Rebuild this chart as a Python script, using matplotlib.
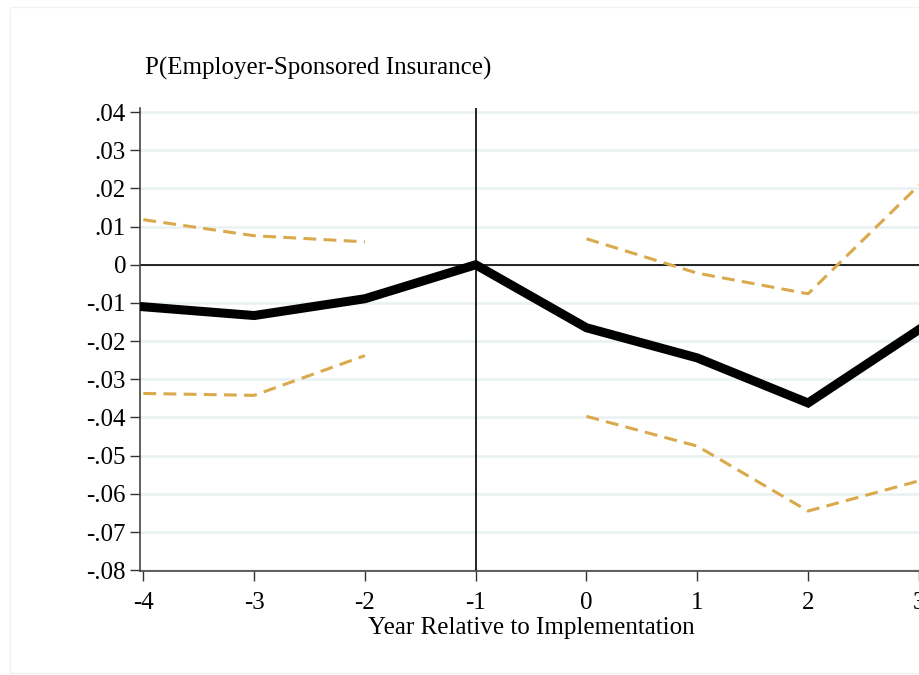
import matplotlib
matplotlib.use("Agg")
import matplotlib.pyplot as plt
from matplotlib.patches import Rectangle

plt.rcParams["font.family"] = ["Liberation Serif", "DejaVu Serif"]

# event-study estimates, year -1 is the omitted reference year
years = [-4, -3, -2, -1, 0, 1, 2, 3]
coef = [-0.0110, -0.0133, -0.0089, 0.0, -0.0165, -0.0244, -0.0362, -0.0170]

pre_years = [-4, -3, -2]
pre_upper = [0.0118, 0.0076, 0.0060]
pre_lower = [-0.0337, -0.0342, -0.0238]

post_years = [0, 1, 2, 3]
post_upper = [0.0068, -0.0022, -0.0076, 0.0208]
post_lower = [-0.0397, -0.0475, -0.0645, -0.0566]

yticks = [0.04, 0.03, 0.02, 0.01, 0, -0.01, -0.02, -0.03, -0.04, -0.05, -0.06, -0.07, -0.08]
ytick_labels = [".04", ".03", ".02", ".01", "0", "-.01", "-.02", "-.03", "-.04", "-.05", "-.06", "-.07", "-.08"]

ci_color = "#d9a94c"
grid_color = "#e9f1f3"

fig = plt.figure(figsize=(9.2, 6.75), dpi=100)
# light frame around the graph region
fig.patches.append(Rectangle((10 / 920, 2 / 675), 1.2, 666 / 675, transform=fig.transFigure,
                             fill=False, edgecolor="#f2f2f2", linewidth=1.0))

ax = fig.add_axes([140 / 920, 104 / 675, 801 / 920, 463 / 675])
ax.set_xlim(-4.03, 3.2)
ax.set_ylim(-0.0802, 0.04105)

for y in yticks:
    ax.axhline(y, color=grid_color, linewidth=1.8, zorder=0)
ax.axhline(0, color="black", linewidth=1.2, zorder=1)
ax.axvline(-1, color="black", linewidth=1.2, zorder=1)

dash = (0, (4.2, 2.4))
ax.plot(pre_years, pre_upper, color=ci_color, linewidth=2.2, linestyle=dash, zorder=2)
ax.plot(pre_years, pre_lower, color=ci_color, linewidth=2.2, linestyle=dash, zorder=2)
ax.plot(post_years, post_upper, color=ci_color, linewidth=2.2, linestyle=dash, zorder=2)
ax.plot(post_years, post_lower, color=ci_color, linewidth=2.2, linestyle=dash, zorder=2)
ax.plot(years, coef, color="black", linewidth=6.5, solid_joinstyle="miter", zorder=3)

ax.set_yticks(yticks)
ax.set_yticklabels(ytick_labels)
ax.set_xticks(years)
ax.set_xticklabels([str(x) for x in years])
ax.tick_params(axis="both", labelsize=18, length=7, width=1.0, color="#333333")
ax.tick_params(axis="y", pad=3)
ax.tick_params(axis="x", pad=8)

for side in ["top", "right"]:
    ax.spines[side].set_visible(False)
for side in ["left", "bottom"]:
    ax.spines[side].set_color("#444444")
    ax.spines[side].set_linewidth(1.2)

# axis title centred on the year range
ax.text(-0.5, -0.123, "Year Relative to Implementation", fontsize=18,
        ha="center", va="center", transform=ax.get_xaxis_transform(), clip_on=False)
fig.text(145 / 920, 1 - 68 / 675, "P(Employer-Sponsored Insurance)", fontsize=18,
         ha="left", va="center")

fig.savefig("out.png", dpi=100, facecolor="white")
